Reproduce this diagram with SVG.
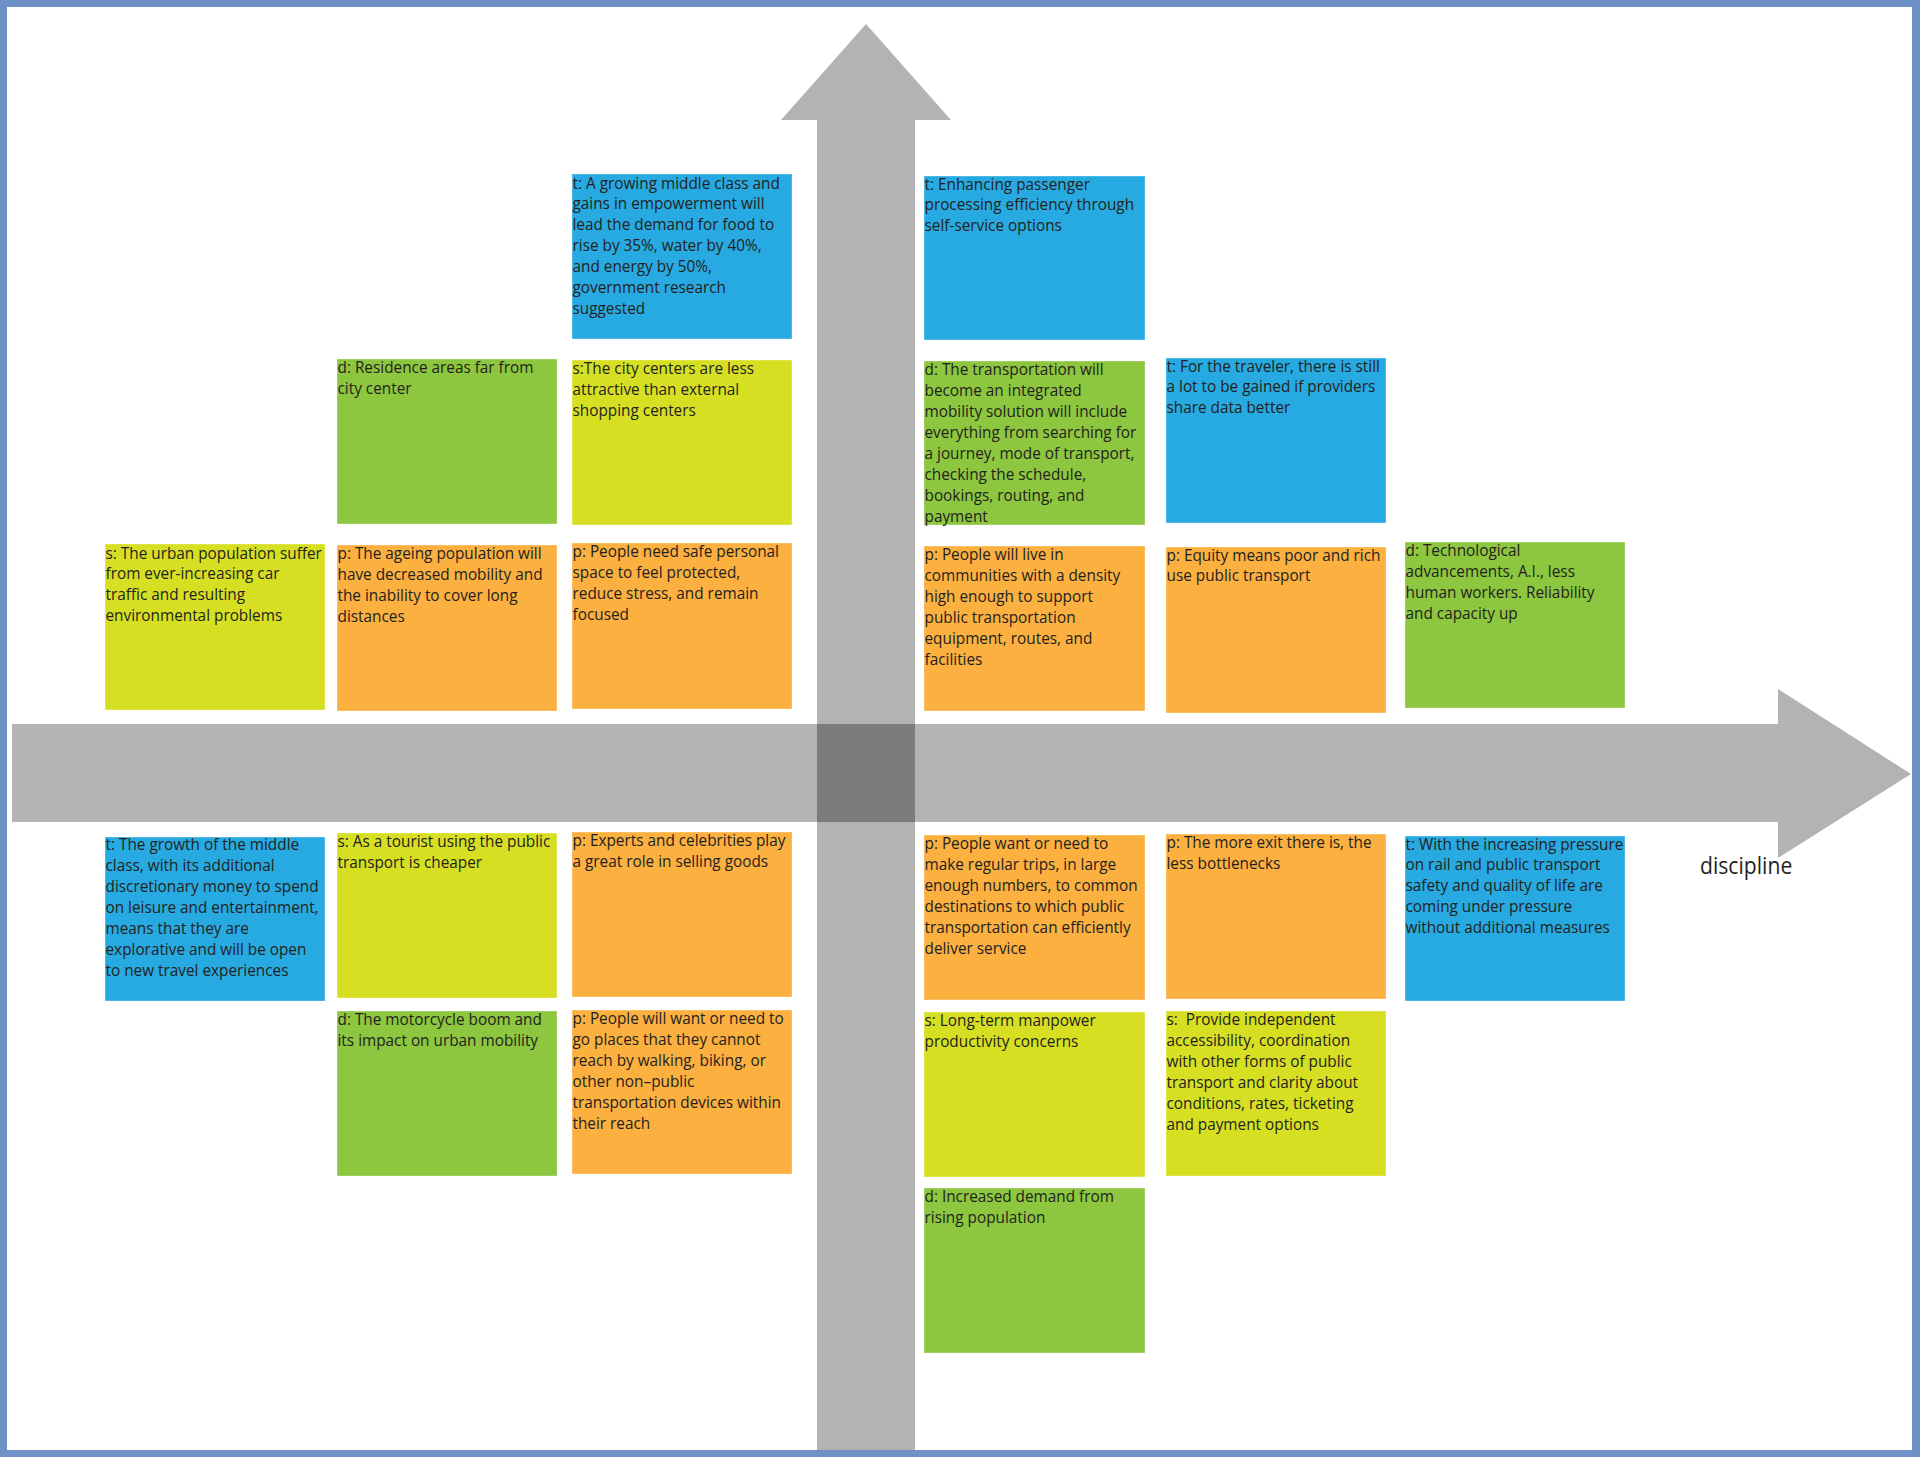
<svg xmlns="http://www.w3.org/2000/svg" width="1920" height="1457" viewBox="0 0 1920 1457">
<style>
.frame{fill:#6e91c7}
.bg{fill:#ffffff}
.shaft{fill:#b3b3b3}
.cross{fill:#7c7c7c}
.c{stroke:#ffffff;stroke-opacity:0.35;stroke-width:1}
.blue{fill:#27aae1}
.green{fill:#8dc63f}
.yellow{fill:#d7df23}
.orange{fill:#fbb040}
.t{font-family:'Open Sans','Noto Sans','Liberation Sans',sans-serif;font-size:16.5px;fill:#231f20}
.lbl{font-family:'Open Sans','Noto Sans','Liberation Sans',sans-serif;font-size:23px;fill:#231f20}
</style>
<rect class="frame" x="0" y="0" width="1920" height="1457"/>
<rect class="bg" x="7" y="7" width="1905" height="1443"/>
<g id="connectors">
<path class="shaft" d="M12,724 H1778 V689 L1911,774 L1778,858 V822 H12 Z"/>
<path class="shaft" d="M817,1450 V120 H781 L866,24 L951,120 H915 V1450 Z"/>
<rect class="cross" x="817" y="724" width="98" height="98"/>
<text class="lbl" transform="translate(1700,874) scale(0.92,1)">discipline</text>
</g>

<g id="n-c1r3"><rect class="c yellow" x="105" y="544" width="220" height="166"/>
<text class="t" transform="translate(105.5,558.5) scale(0.93,1)"><tspan x="0">s: The urban population suffer</tspan><tspan x="0" dy="21">from ever-increasing car</tspan><tspan x="0" dy="21">traffic and resulting</tspan><tspan x="0" dy="21">environmental problems</tspan></text></g>

<g id="n-c1r4"><rect class="c blue" x="105" y="837" width="220" height="164"/>
<text class="t" transform="translate(105.5,850) scale(0.93,1)"><tspan x="0">t: The growth of the middle</tspan><tspan x="0" dy="21">class, with its additional</tspan><tspan x="0" dy="21">discretionary money to spend</tspan><tspan x="0" dy="21">on leisure and entertainment,</tspan><tspan x="0" dy="21">means that they are</tspan><tspan x="0" dy="21">explorative and will be open</tspan><tspan x="0" dy="21">to new travel experiences</tspan></text></g>

<g id="n-c2r2"><rect class="c green" x="337" y="359" width="220" height="165"/>
<text class="t" transform="translate(337.5,373) scale(0.93,1)"><tspan x="0">d: Residence areas far from</tspan><tspan x="0" dy="21">city center</tspan></text></g>

<g id="n-c2r3"><rect class="c orange" x="337" y="545" width="220" height="166"/>
<text class="t" transform="translate(337.5,559) scale(0.93,1)"><tspan x="0">p: The ageing population will</tspan><tspan x="0" dy="21">have decreased mobility and</tspan><tspan x="0" dy="21">the inability to cover long</tspan><tspan x="0" dy="21">distances</tspan></text></g>

<g id="n-c2r4"><rect class="c yellow" x="337" y="833" width="220" height="165"/>
<text class="t" transform="translate(337.5,847) scale(0.93,1)"><tspan x="0">s: As a tourist using the public</tspan><tspan x="0" dy="21">transport is cheaper</tspan></text></g>

<g id="n-c2r5"><rect class="c green" x="337" y="1011" width="220" height="165"/>
<text class="t" transform="translate(337.5,1025) scale(0.93,1)"><tspan x="0">d: The motorcycle boom and</tspan><tspan x="0" dy="21">its impact on urban mobility</tspan></text></g>

<g id="n-c3r1"><rect class="c blue" x="572" y="174" width="220" height="165"/>
<text class="t" transform="translate(572.5,188.5) scale(0.93,1)"><tspan x="0">t: A growing middle class and</tspan><tspan x="0" dy="21">gains in empowerment will</tspan><tspan x="0" dy="21">lead the demand for food to</tspan><tspan x="0" dy="21">rise by 35%, water by 40%,</tspan><tspan x="0" dy="21">and energy by 50%,</tspan><tspan x="0" dy="21">government research</tspan><tspan x="0" dy="21">suggested</tspan></text></g>

<g id="n-c3r2"><rect class="c yellow" x="572" y="360" width="220" height="165"/>
<text class="t" transform="translate(572.5,374) scale(0.93,1)"><tspan x="0">s:The city centers are less</tspan><tspan x="0" dy="21">attractive than external</tspan><tspan x="0" dy="21">shopping centers</tspan></text></g>

<g id="n-c3r3"><rect class="c orange" x="572" y="543" width="220" height="166"/>
<text class="t" transform="translate(572.5,557) scale(0.93,1)"><tspan x="0">p: People need safe personal</tspan><tspan x="0" dy="21">space to feel protected,</tspan><tspan x="0" dy="21">reduce stress, and remain</tspan><tspan x="0" dy="21">focused</tspan></text></g>

<g id="n-c3r4"><rect class="c orange" x="572" y="832" width="220" height="165"/>
<text class="t" transform="translate(572.5,846) scale(0.93,1)"><tspan x="0">p: Experts and celebrities play</tspan><tspan x="0" dy="21">a great role in selling goods</tspan></text></g>

<g id="n-c3r5"><rect class="c orange" x="572" y="1010" width="220" height="164"/>
<text class="t" transform="translate(572.5,1024) scale(0.93,1)"><tspan x="0">p: People will want or need to</tspan><tspan x="0" dy="21">go places that they cannot</tspan><tspan x="0" dy="21">reach by walking, biking, or</tspan><tspan x="0" dy="21">other non–public</tspan><tspan x="0" dy="21">transportation devices within</tspan><tspan x="0" dy="21">their reach</tspan></text></g>

<g id="n-c4r1"><rect class="c blue" x="924" y="176" width="221" height="164"/>
<text class="t" transform="translate(924.5,189.5) scale(0.93,1)"><tspan x="0">t: Enhancing passenger</tspan><tspan x="0" dy="21">processing efficiency through</tspan><tspan x="0" dy="21">self-service options</tspan></text></g>

<g id="n-c4r2"><rect class="c green" x="924" y="361" width="221" height="164"/>
<text class="t" transform="translate(924.5,375) scale(0.93,1)"><tspan x="0">d: The transportation will</tspan><tspan x="0" dy="21">become an integrated</tspan><tspan x="0" dy="21">mobility solution will include</tspan><tspan x="0" dy="21">everything from searching for</tspan><tspan x="0" dy="21">a journey, mode of transport,</tspan><tspan x="0" dy="21">checking the schedule,</tspan><tspan x="0" dy="21">bookings, routing, and</tspan><tspan x="0" dy="21">payment</tspan></text></g>

<g id="n-c4r3"><rect class="c orange" x="924" y="546" width="221" height="165"/>
<text class="t" transform="translate(924.5,560) scale(0.93,1)"><tspan x="0">p: People will live in</tspan><tspan x="0" dy="21">communities with a density</tspan><tspan x="0" dy="21">high enough to support</tspan><tspan x="0" dy="21">public transportation</tspan><tspan x="0" dy="21">equipment, routes, and</tspan><tspan x="0" dy="21">facilities</tspan></text></g>

<g id="n-c4r4"><rect class="c orange" x="924" y="835" width="221" height="165"/>
<text class="t" transform="translate(924.5,849) scale(0.93,1)"><tspan x="0">p: People want or need to</tspan><tspan x="0" dy="21">make regular trips, in large</tspan><tspan x="0" dy="21">enough numbers, to common</tspan><tspan x="0" dy="21">destinations to which public</tspan><tspan x="0" dy="21">transportation can efficiently</tspan><tspan x="0" dy="21">deliver service</tspan></text></g>

<g id="n-c4r5"><rect class="c yellow" x="924" y="1012" width="221" height="165"/>
<text class="t" transform="translate(924.5,1026) scale(0.93,1)"><tspan x="0">s: Long-term manpower</tspan><tspan x="0" dy="21">productivity concerns</tspan></text></g>

<g id="n-c4r6"><rect class="c green" x="924" y="1188" width="221" height="165"/>
<text class="t" transform="translate(924.5,1202) scale(0.93,1)"><tspan x="0">d: Increased demand from</tspan><tspan x="0" dy="21">rising population</tspan></text></g>

<g id="n-c5r2"><rect class="c blue" x="1166" y="358" width="220" height="165"/>
<text class="t" transform="translate(1166.5,371.5) scale(0.93,1)"><tspan x="0">t: For the traveler, there is still</tspan><tspan x="0" dy="21">a lot to be gained if providers</tspan><tspan x="0" dy="21">share data better</tspan></text></g>

<g id="n-c5r3"><rect class="c orange" x="1166" y="547" width="220" height="166"/>
<text class="t" transform="translate(1166.5,560.5) scale(0.93,1)"><tspan x="0">p: Equity means poor and rich</tspan><tspan x="0" dy="21">use public transport</tspan></text></g>

<g id="n-c5r4"><rect class="c orange" x="1166" y="834" width="220" height="165"/>
<text class="t" transform="translate(1166.5,848) scale(0.93,1)"><tspan x="0">p: The more exit there is, the</tspan><tspan x="0" dy="21">less bottlenecks</tspan></text></g>

<g id="n-c5r5"><rect class="c yellow" x="1166" y="1011" width="220" height="165"/>
<text class="t" transform="translate(1166.5,1025) scale(0.93,1)" xml:space="preserve"><tspan x="0">s:  Provide independent</tspan><tspan x="0" dy="21">accessibility, coordination</tspan><tspan x="0" dy="21">with other forms of public</tspan><tspan x="0" dy="21">transport and clarity about</tspan><tspan x="0" dy="21">conditions, rates, ticketing</tspan><tspan x="0" dy="21">and payment options</tspan></text></g>

<g id="n-c6r3"><rect class="c green" x="1405" y="542" width="220" height="166"/>
<text class="t" transform="translate(1405.5,556) scale(0.93,1)"><tspan x="0">d: Technological</tspan><tspan x="0" dy="21">advancements, A.I., less</tspan><tspan x="0" dy="21">human workers. Reliability</tspan><tspan x="0" dy="21">and capacity up</tspan></text></g>

<g id="n-c6r4"><rect class="c blue" x="1405" y="836" width="220" height="165"/>
<text class="t" transform="translate(1405.5,849.5) scale(0.93,1)"><tspan x="0">t: With the increasing pressure</tspan><tspan x="0" dy="21">on rail and public transport</tspan><tspan x="0" dy="21">safety and quality of life are</tspan><tspan x="0" dy="21">coming under pressure</tspan><tspan x="0" dy="21">without additional measures</tspan></text></g>
</svg>
